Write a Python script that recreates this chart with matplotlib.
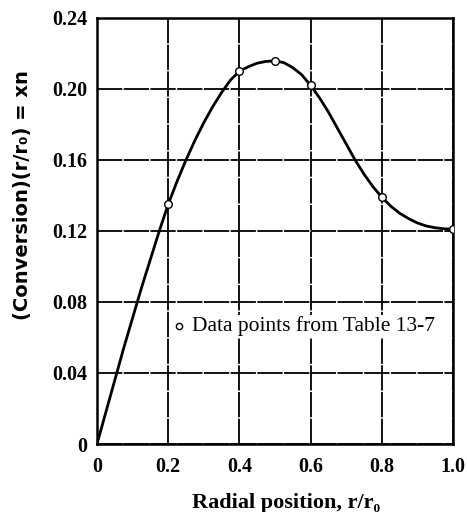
import matplotlib.pyplot as plt

# data points from Table 13-7
r_pts = [0.2, 0.4, 0.5, 0.6, 0.8, 1.0]
xn_pts = [0.135, 0.210, 0.2158, 0.202, 0.139, 0.121]

# smooth curve
r_curve = [0.0, 0.025, 0.05, 0.075, 0.10, 0.125, 0.15, 0.175, 0.20, 0.225, 0.25,
           0.275, 0.30, 0.325, 0.35, 0.375, 0.40, 0.425, 0.45, 0.475, 0.50,
           0.525, 0.55, 0.575, 0.60, 0.625, 0.65, 0.675, 0.70, 0.725, 0.75,
           0.775, 0.80, 0.825, 0.85, 0.875, 0.90, 0.925, 0.95, 0.975, 1.0]
xn_curve = [0.0, 0.018, 0.036, 0.054, 0.071, 0.088, 0.104, 0.120, 0.135, 0.148, 0.160,
            0.171, 0.181, 0.190, 0.198, 0.205, 0.210, 0.2125, 0.2145, 0.2155, 0.2158,
            0.2148, 0.212, 0.208, 0.202, 0.195, 0.187, 0.178, 0.169, 0.160, 0.152,
            0.145, 0.139, 0.134, 0.130, 0.127, 0.1245, 0.1228, 0.1218, 0.1212, 0.121]

x_ticks = [0, 0.2, 0.4, 0.6, 0.8, 1.0]
x_labels = ["0", "0.2", "0.4", "0.6", "0.8", "1.0"]
y_ticks = [0, 0.04, 0.08, 0.12, 0.16, 0.20, 0.24]
y_labels = ["0", "0.04", "0.08", "0.12", "0.16", "0.20", "0.24"]

plt.rcParams['font.family'] = ['Liberation Serif', 'DejaVu Serif']

fig = plt.figure(figsize=(4.67, 5.12), dpi=100)
ax = fig.add_axes([0.2077, 0.1328, 0.7623, 0.8322])

ax.set_xlim(0, 1.0)
ax.set_ylim(0, 0.24)
ax.set_xticks(x_ticks)
ax.set_xticklabels(x_labels, fontweight='bold')
ax.set_yticks(y_ticks)
ax.set_yticklabels(y_labels, fontweight='bold')
ax.tick_params(length=0, labelsize=14.5)
ax.tick_params(axis='x', pad=9)
ax.tick_params(axis='y', pad=7)

ax.grid(True, color='black', linewidth=1.3, linestyle=(0, (14, 0.8)))
ax.set_axisbelow(True)
for s in ax.spines.values():
    s.set_linewidth(1.8)

ax.plot(r_curve, xn_curve, color='black', linewidth=2.0, zorder=3)
ax.plot(r_pts, xn_pts, linestyle='none', marker='o', markersize=5.5,
        markerfacecolor='white', markeredgecolor='black', markeredgewidth=1.0, zorder=4)

ax.plot([0.23], [0.0665], linestyle='none', marker='o', markersize=4.5,
        markerfacecolor='white', markeredgecolor='black', markeredgewidth=1.0, zorder=6)
ax.text(0.268, 0.0665, "Data points from Table 13-7", fontsize=15.5,
        va='center', ha='left', zorder=5,
        bbox=dict(facecolor='white', edgecolor='none', pad=1))

ax.set_xlabel("Radial position, r/r\u2080", fontsize=16, fontweight='bold', va='center')
ax.xaxis.set_label_coords(0.53, -0.138)
ax.set_ylabel("(Conversion)(r/r\u2080) = xn", fontsize=14, fontweight='bold',
              family=['DejaVu Sans'], va='center')
ax.yaxis.set_label_coords(-0.21, 0.585)

fig.savefig("out.png", dpi=100)
